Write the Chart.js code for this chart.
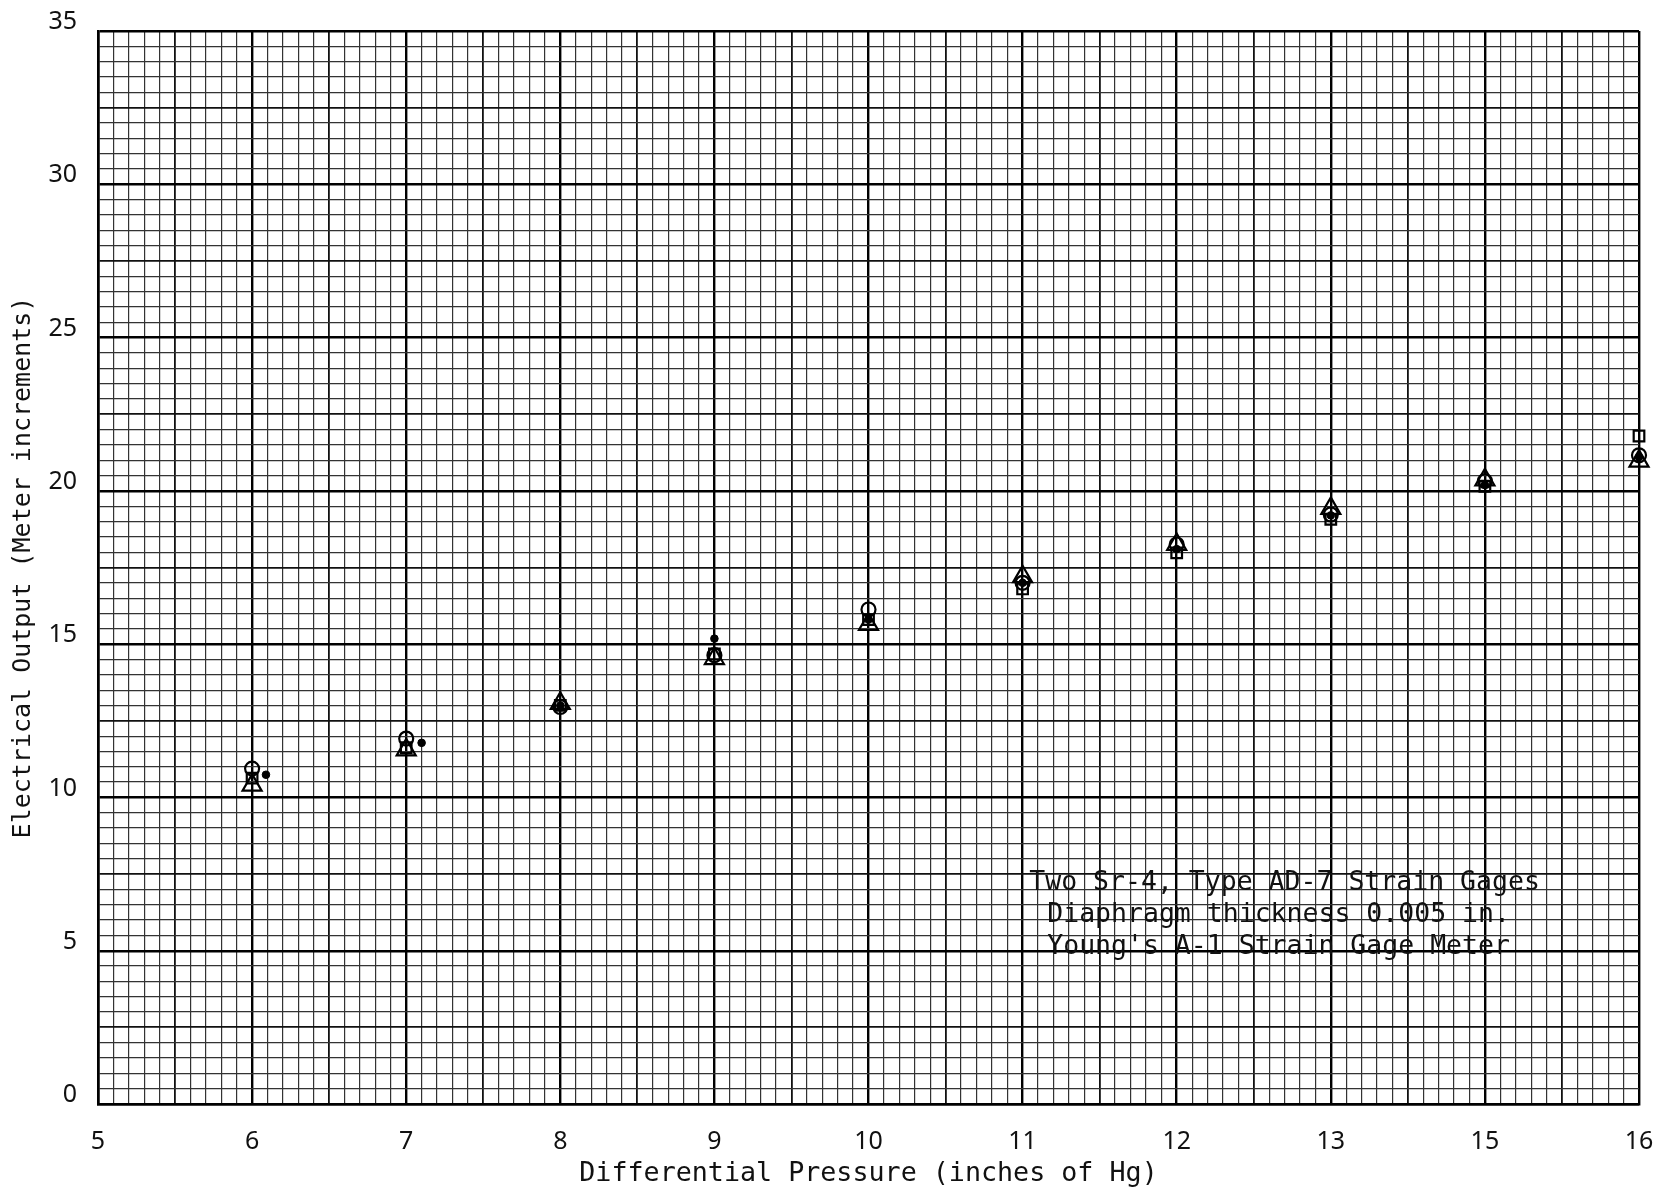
<!DOCTYPE html>
<html><head><meta charset="utf-8">
<script src="https://cdn.jsdelivr.net/npm/chart.js@4.4.1/dist/chart.umd.min.js"></script>
<style>html,body{margin:0;padding:0;background:#fff}canvas{display:block}</style>
</head><body>
<canvas id="c" width="1661" height="1193"></canvas>
<script>
// ---- data ----
const xTickLabels = ['5','6','7','8','9','10','11','12','13','15','16'];
const yTickLabels = ['0','5','10','15','20','25','30','35'];
const xPos = [6, 7, 8, 9, 10, 11, 12, 13, 14, 15];
const circleValues   = [10.94, 11.92, 12.95, 14.64, 16.13, 17.00, 18.25, 19.23, 20.32, 21.16];
const triangleValues = [10.40, 11.55, 13.07, 14.53, 15.64, 17.20, 18.25, 19.43, 20.36, 20.97];
const squareValues   = [10.63, 11.62, 13.00, 14.68, 15.80, 16.80, 17.98, 19.07, 20.15, 21.79];
const dotX      = [6.09, 7.10, 8, 9, 10, 11, 12, 13, 14, 15];
const dotValues = [10.74, 11.78, 13.00, 15.18, 15.80, 17.00, 18.10, 19.20, 20.20, 21.10];
const noteLines = ['Two Sr-4, Type AD-7 Strain Gages', 'Diaphragm thickness 0.005 in.', "Young's A-1 Strain Gage Meter"];
const xTitle = 'Differential Pressure (inches of Hg)';
const yTitle = 'Electrical Output (Meter increments)';

const pts = (xs, ys) => ys.map((y, i) => ({x: xs[i], y}));
const near = (v, s) => Math.abs(v / s - Math.round(v / s)) < 1e-6;

function gridColor(v, big, mid) {
  if (near(v, big)) return '#000';
  if (near(v, mid)) return '#111';
  return '#333';
}
function gridWidth(v, big, mid) {
  if (near(v, big)) return 2.4;
  if (near(v, mid)) return 1.8;
  return 1.2;
}

const monoFont = '"DejaVu Sans Mono", "Liberation Mono", monospace';

const notePlugin = {
  id: 'note',
  afterDraw(chart) {
    const {ctx, scales} = chart;
    const cx = scales.x.getPixelForValue(12.70);
    const y0 = scales.y.getPixelForValue(7.2);
    ctx.save();
    ctx.font = '26.5px ' + monoFont;
    ctx.fillStyle = '#111';
    ctx.textAlign = 'center';
    ctx.textBaseline = 'middle';
    noteLines.forEach((t, i) => ctx.fillText(t, cx - (i ? 6 : 0), y0 + i * 32));
    ctx.restore();
  }
};

new Chart(document.getElementById('c'), {
  type: 'scatter',
  data: {
    datasets: [
      {label: 'circle', data: pts(xPos, circleValues), pointStyle: 'circle', radius: 7,
       borderColor: '#000', backgroundColor: 'rgba(0,0,0,0)', borderWidth: 2.2, clip: false},
      {label: 'triangle', data: pts(xPos, triangleValues), pointStyle: 'triangle', radius: 11,
       borderColor: '#000', backgroundColor: 'rgba(0,0,0,0)', borderWidth: 2.2, clip: false},
      {label: 'square', data: pts(xPos, squareValues), pointStyle: 'rect', radius: 7.5,
       borderColor: '#000', backgroundColor: 'rgba(0,0,0,0)', borderWidth: 2.2, clip: false},
      {label: 'dot', data: pts(dotX, dotValues), pointStyle: 'circle', radius: 3.8,
       borderColor: '#000', backgroundColor: '#000', borderWidth: 1, clip: false}
    ]
  },
  options: {
    responsive: false,
    animation: false,
    devicePixelRatio: 1,
    layout: {padding: {top: 31, right: 22, left: 0, bottom: 0}},
    plugins: {legend: {display: false}, tooltip: {enabled: false}},
    scales: {
      x: {
        type: 'linear', min: 5, max: 15,
        afterFit(s) { s.height = 89; s.paddingLeft = 0; s.paddingRight = 0; },
        ticks: {
          stepSize: 0.1, autoSkip: false, maxRotation: 0, minRotation: 0,
          padding: 23, color: '#111',
          font: {family: '"Noto Sans", sans-serif', size: 25},
          callback: (v) => near(v, 1) ? xTickLabels[Math.round(v) - 5] : ''
        },
        grid: {
          drawTicks: false,
          color: (c) => gridColor(c.tick.value, 1, 0.5),
          lineWidth: (c) => gridWidth(c.tick.value, 1, 0.5)
        },
        border: {display: true, color: '#000', width: 2.6},
        title: {display: true, text: xTitle, color: '#111',
          font: {family: monoFont, size: 26.7},
          padding: {top: 0, bottom: 3}}
      },
      y: {
        type: 'linear', min: 0, max: 35,
        afterFit(s) { s.width = 98; s.paddingTop = 0; s.paddingBottom = 0; },
        ticks: {
          stepSize: 0.5, autoSkip: false, padding: 21, labelOffset: -9, color: '#111',
          font: {family: '"Noto Sans", sans-serif', size: 25},
          callback: (v) => near(v, 5) ? yTickLabels[Math.round(v / 5)] : ''
        },
        grid: {
          drawTicks: false,
          color: (c) => gridColor(c.tick.value, 5, 2.5),
          lineWidth: (c) => gridWidth(c.tick.value, 5, 2.5)
        },
        border: {display: true, color: '#000', width: 2.6},
        title: {display: true, text: yTitle, color: '#111',
          font: {family: monoFont, size: 25},
          padding: {top: 8, bottom: 0}}
      }
    }
  },
  plugins: [notePlugin]
});
</script>
</body></html>
